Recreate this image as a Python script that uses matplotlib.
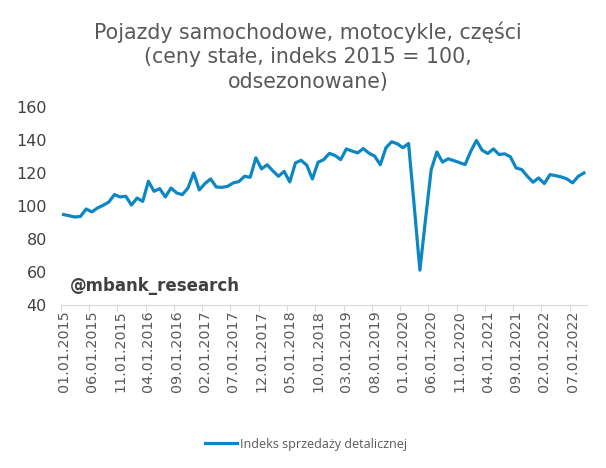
import numpy as np
import matplotlib
matplotlib.use("Agg")
import matplotlib.pyplot as plt

# monthly index, 01.2015 - 09.2022
values = [
    94.8, 94.1, 93.3, 93.7, 98.2, 96.4, 98.8, 100.4, 102.4, 106.9, 105.5, 105.9,
    100.6, 104.8, 102.8, 115.0, 108.9, 110.5, 105.5, 110.9, 107.9, 106.9, 110.9, 120.0,
    109.7, 113.6, 116.4, 111.5, 111.3, 111.9, 114.0, 114.8, 118.0, 117.4, 129.2, 122.5,
    125.0, 121.3, 118.0, 121.0, 114.6, 126.1, 127.7, 124.7, 116.4, 126.5, 128.1, 131.9,
    130.6, 128.1, 134.6, 133.3, 132.2, 134.8, 132.0, 130.2, 125.0, 135.3, 138.9, 137.7,
    135.3, 137.9, 100.0, 61.1, 92.0, 122.0, 132.7, 126.6, 128.6, 127.5, 126.3, 125.1,
    133.2, 139.7, 133.8, 131.8, 134.6, 131.2, 131.6, 129.8, 123.1, 122.1, 118.0, 114.4,
    117.0, 113.6, 119.0, 118.4, 117.6, 116.4, 114.0, 118.0, 120.0,
]
tick_labels = [
    "01.01.2015", "06.01.2015", "11.01.2015", "04.01.2016", "09.01.2016",
    "02.01.2017", "07.01.2017", "12.01.2017", "05.01.2018", "10.01.2018",
    "03.01.2019", "08.01.2019", "01.01.2020", "06.01.2020", "11.01.2020",
    "04.01.2021", "09.01.2021", "02.01.2022", "07.01.2022",
]
series_name = "Indeks sprzedaży detalicznej"
title = "Pojazdy samochodowe, motocykle, części\n(ceny stałe, indeks 2015 = 100,\nodsezonowane)"

x = np.arange(len(values))
step = 5

fig = plt.figure(figsize=(6.06, 4.68), dpi=100)
ax = fig.add_axes([0.1002, 0.3483, 0.868, 0.4231])

line, = ax.plot(x, values, color="#0C87C3", lw=2.3, solid_joinstyle="round")

ax.set_xlim(-0.5, len(values) - 0.5)
ax.set_ylim(40, 160)
ax.set_yticks(np.arange(40, 161, 20))
ax.tick_params(axis="y", length=0, pad=10, labelsize=11.5, labelcolor="#404040")

ax.set_xticks(x[::step])
ax.set_xticklabels(tick_labels, rotation=90)
ax.set_xticks(x[::step] - 0.5, minor=True)
ax.tick_params(axis="x", which="major", length=0, pad=4, labelsize=10.3, labelcolor="#595959")
ax.tick_params(axis="x", which="minor", length=4, width=0.8, color="#D9D9D9")

for s in ["top", "right", "left"]:
    ax.spines[s].set_visible(False)
ax.spines["bottom"].set_color("#D9D9D9")
ax.spines["bottom"].set_linewidth(0.8)

fig.text(0.508, 0.955, title, ha="center", va="top", fontsize=14.8,
         color="#595959", linespacing=1.3)
fig.text(0.116, 0.389, "@mbank_research", fontsize=12, fontweight="bold",
         color="#404040", va="center")

leg = fig.legend([line], [series_name], loc="center", bbox_to_anchor=(0.505, 0.051),
                 frameon=False, prop={"family": "Open Sans", "size": 9},
                 handlelength=2.6, handletextpad=0.2)
for t in leg.get_texts():
    t.set_color("#595959")

fig.savefig("out.png", dpi=100)
